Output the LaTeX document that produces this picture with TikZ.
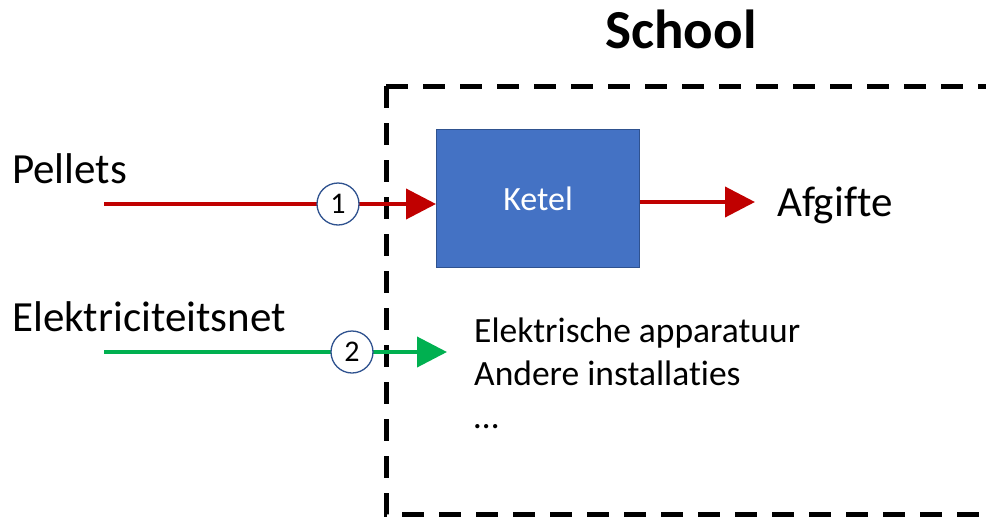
\documentclass[tikz,border=0pt]{standalone}
\usepackage{fontspec}
\setmainfont[Ligatures=NoCommon]{Carlito}
\usetikzlibrary{arrows.meta}
\definecolor{kblue}{HTML}{4472C4}
\definecolor{kborder}{HTML}{2F528F}
\definecolor{kred}{HTML}{C00000}
\definecolor{kgreen}{HTML}{00B050}
\tikzset{
  flow/.style={line width=4pt, -{Triangle[length=30pt,width=30pt]}},
  redflow/.style={flow, draw=kred},
  greenflow/.style={flow, draw=kgreen},
  numcirc/.style={circle, draw=kborder, line width=1.3pt, fill=white, minimum size=42pt, inner sep=0pt, font=\fontsize{30}{33}\selectfont},
  bigtxt/.style={font=\fontsize{43}{48}\selectfont, inner sep=0pt, anchor=base west},
  smalltxt/.style={font=\fontsize{35.5}{40}\selectfont, inner sep=0pt, anchor=base west},
  boundary/.style={draw=black, line width=5pt, dash pattern=on 22pt off 15pt}
}
\begin{document}
\begin{tikzpicture}[x=1pt,y=-1pt]
\useasboundingbox (0,0) rectangle (986,517);
\begin{scope}
\clip (0,0) rectangle (986,517);
\draw[boundary] (386,86) -- (1010,86);
\draw[boundary] (386,86) -- (386,514) -- (1010,514);
\end{scope}
\node[bigtxt, font=\fontsize{55}{60}\selectfont\bfseries, anchor=base] (school) at (681,48) {School};
\node[draw=kborder, line width=1.2pt, fill=kblue, minimum width=203pt, minimum height=138pt, inner sep=0pt, anchor=north west, text=white, font=\fontsize{34}{40}\selectfont] (ketel) at (436,129) {Ketel};
\node[bigtxt] (pellets) at (12,183) {Pellets};
\node[bigtxt] (net) at (12,331) {Elektriciteitsnet};
\node[bigtxt] (afgifte) at (777,216) {Afgifte};
\coordinate (p0) at (104,204);
\coordinate (e0) at (104,352);
\coordinate (e1) at (447,352);
\coordinate (a1) at (755,202);
\draw[redflow] (p0) -- (p0 -| ketel.west);
\draw[redflow] (a1 -| ketel.east) -- (a1);
\draw[greenflow] (e0) -- (e1);
\node[numcirc] (c1) at (338,204) {1};
\node[numcirc] (c2) at (352,352) {2};
\node[smalltxt] (l1) at (474,342) {Elektrische apparatuur};
\node[smalltxt] (l2) at (474,385) {Andere installaties};
\node[smalltxt] (l3) at (474,428) {…};
\end{tikzpicture}
\end{document}
